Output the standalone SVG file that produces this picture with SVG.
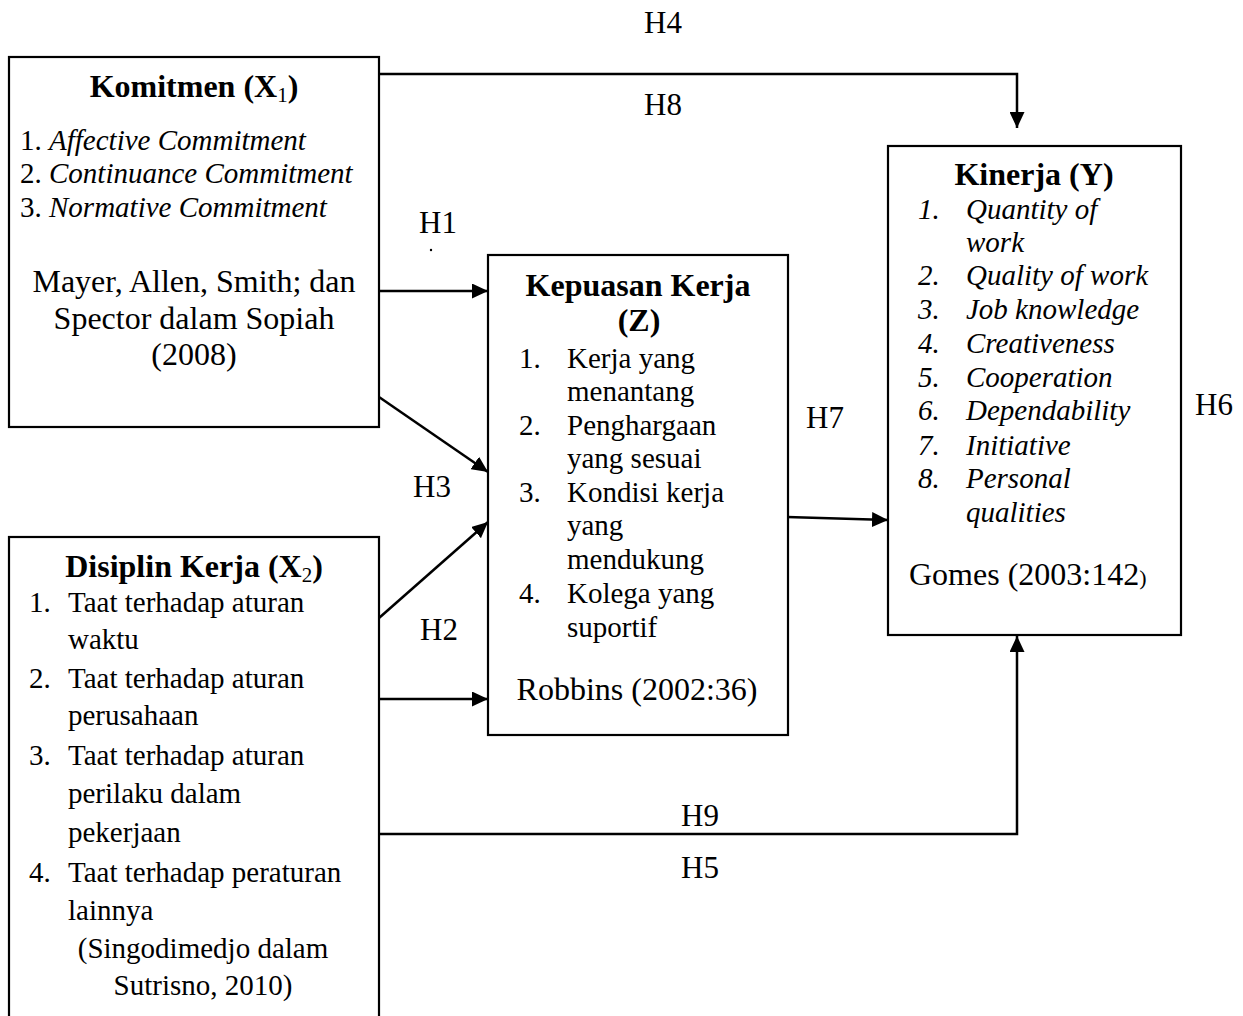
<svg xmlns="http://www.w3.org/2000/svg" width="1243" height="1016" viewBox="0 0 1243 1016">
<style>
text{font-family:"Liberation Serif","Times New Roman",serif;fill:#000}
.t{font-size:32px;font-weight:bold;text-anchor:middle}
.c{font-size:32px;text-anchor:middle}
.i{font-size:29px}
.it{font-style:italic}
.h{font-size:31px;text-anchor:middle}
.box{fill:#fff;stroke:#000;stroke-width:2.2}
.ln{fill:none;stroke:#000;stroke-width:2.5}
</style>
<defs>
<marker id="ah" markerUnits="userSpaceOnUse" markerWidth="16" markerHeight="15" refX="16" refY="7.5" orient="auto">
<path d="M0,0 L16,7.5 L0,15 z" fill="#000"/>
</marker>
</defs>
<rect width="1243" height="1016" fill="#fff"/>

<g id="connectors">
<polyline class="ln" points="379,74 1017,74 1017,128" marker-end="url(#ah)"/>
<line class="ln" x1="379" y1="291" x2="488" y2="291" marker-end="url(#ah)"/>
<line class="ln" x1="379" y1="397" x2="488" y2="472" marker-end="url(#ah)"/>
<line class="ln" x1="379" y1="618" x2="488" y2="522" marker-end="url(#ah)"/>
<line class="ln" x1="379" y1="699" x2="488" y2="699" marker-end="url(#ah)"/>
<line class="ln" x1="787" y1="517" x2="888" y2="520" marker-end="url(#ah)"/>
<polyline class="ln" points="379,834 1017,834 1017,636" marker-end="url(#ah)"/>
<circle cx="431" cy="250" r="1.2" fill="#000"/>
<text class="h" x="663" y="33">H4</text>
<text class="h" x="663" y="115">H8</text>
<text class="h" x="438" y="233">H1</text>
<text class="h" x="432" y="497">H3</text>
<text class="h" x="439" y="640">H2</text>
<text class="h" x="825" y="428">H7</text>
<text class="h" x="1214" y="415">H6</text>
<text class="h" x="700" y="826">H9</text>
<text class="h" x="700" y="878">H5</text>
</g>

<g id="komitmen">
<rect class="box" x="9" y="57" width="370" height="370"/>
<text class="t" x="194" y="97">Komitmen (X<tspan font-size="21" font-weight="normal" dy="5">1</tspan><tspan dy="-5">)</tspan></text>
<text class="i" x="20" y="150">1. <tspan class="it">Affective Commitment</tspan></text>
<text class="i" x="20" y="183">2. <tspan class="it">Continuance Commitment</tspan></text>
<text class="i" x="20" y="217">3. <tspan class="it">Normative Commitment</tspan></text>
<text class="c" x="194" y="292">Mayer, Allen, Smith; dan</text>
<text class="c" x="194" y="329">Spector dalam Sopiah</text>
<text class="c" x="194" y="365">(2008)</text>
</g>

<g id="disiplin">
<rect class="box" x="9" y="537" width="370" height="500"/>
<text class="t" x="194" y="577">Disiplin Kerja (X<tspan font-size="21" font-weight="normal" dy="5">2</tspan><tspan dy="-5">)</tspan></text>
<text class="i" x="29" y="612">1.</text><text class="i" x="68" y="612">Taat terhadap aturan</text>
<text class="i" x="68" y="649">waktu</text>
<text class="i" x="29" y="688">2.</text><text class="i" x="68" y="688">Taat terhadap aturan</text>
<text class="i" x="68" y="725">perusahaan</text>
<text class="i" x="29" y="765">3.</text><text class="i" x="68" y="765">Taat terhadap aturan</text>
<text class="i" x="68" y="803">perilaku dalam</text>
<text class="i" x="68" y="842">pekerjaan</text>
<text class="i" x="29" y="882">4.</text><text class="i" x="68" y="882">Taat terhadap peraturan</text>
<text class="i" x="68" y="920">lainnya</text>
<text class="i" x="203" y="958" text-anchor="middle">(Singodimedjo dalam</text>
<text class="i" x="203" y="995" text-anchor="middle">Sutrisno, 2010)</text>
</g>

<g id="kepuasan">
<rect class="box" x="488" y="255" width="300" height="480"/>
<text class="t" x="638" y="296">Kepuasan Kerja</text>
<text class="t" x="639" y="331">(Z)</text>
<text class="i" x="519" y="368">1.</text><text class="i" x="567" y="368">Kerja yang</text>
<text class="i" x="567" y="401">menantang</text>
<text class="i" x="519" y="435">2.</text><text class="i" x="567" y="435">Penghargaan</text>
<text class="i" x="567" y="468">yang sesuai</text>
<text class="i" x="519" y="502">3.</text><text class="i" x="567" y="502">Kondisi kerja</text>
<text class="i" x="567" y="535">yang</text>
<text class="i" x="567" y="569">mendukung</text>
<text class="i" x="519" y="603">4.</text><text class="i" x="567" y="603">Kolega yang</text>
<text class="i" x="567" y="637">suportif</text>
<text class="c" x="637" y="700">Robbins (2002:36)</text>
</g>

<g id="kinerja">
<rect class="box" x="888" y="146" width="293" height="489"/>
<text class="t" x="1034" y="185">Kinerja (Y)</text>
<g class="it">
<text class="i it" x="918" y="219">1.</text><text class="i it" x="966" y="219">Quantity of</text>
<text class="i it" x="966" y="252">work</text>
<text class="i it" x="918" y="285">2.</text><text class="i it" x="966" y="285">Quality of work</text>
<text class="i it" x="918" y="319">3.</text><text class="i it" x="966" y="319">Job knowledge</text>
<text class="i it" x="918" y="353">4.</text><text class="i it" x="966" y="353">Creativeness</text>
<text class="i it" x="918" y="387">5.</text><text class="i it" x="966" y="387">Cooperation</text>
<text class="i it" x="918" y="420">6.</text><text class="i it" x="966" y="420">Dependability</text>
<text class="i it" x="918" y="455">7.</text><text class="i it" x="966" y="455">Initiative</text>
<text class="i it" x="918" y="488">8.</text><text class="i it" x="966" y="488">Personal</text>
<text class="i it" x="966" y="522">qualities</text>
</g>
<text style="font-size:32px" x="909" y="585">Gomes (2003:142<tspan font-size="22">)</tspan></text>
</g>
</svg>
